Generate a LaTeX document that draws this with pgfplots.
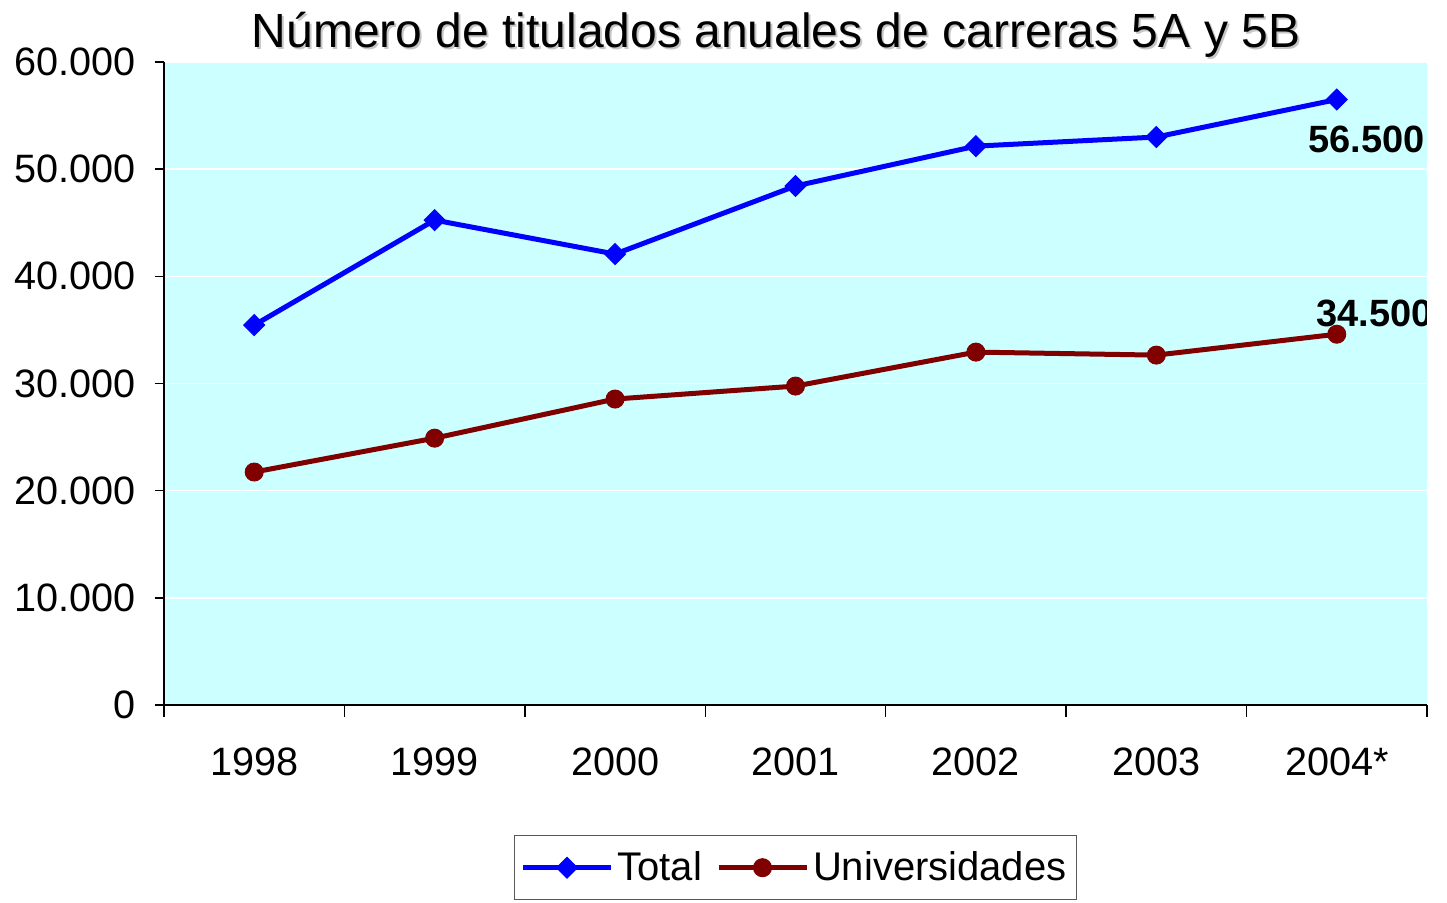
\documentclass[border=0pt]{standalone}
\usepackage{pgfplots}
\pgfplotsset{compat=1.18}
\usepackage{fontspec}
\setmainfont{Liberation Sans}
\definecolor{bgc}{HTML}{CCFFFF}
\definecolor{univ}{HTML}{800000}
\begin{document}
\begin{tikzpicture}
\useasboundingbox (-82pt,-98.5pt) rectangle (641.5pt,352.5pt);
\begin{axis}[
  scale only axis, width=631.5pt, height=321.5pt,
  xmin=-0.5, xmax=6.5, ymin=0, ymax=60000,
  axis lines=left,
  axis line style={-, black, line width=0.7pt},
  axis background/.style={fill=bgc},
  ytick={0,10000,20000,30000,40000,50000,60000},
  scaled y ticks=false,
  /pgf/number format/fixed,
  /pgf/number format/1000 sep={.},
  /pgf/number format/assume math mode=true,
  ymajorgrids, grid style={white, line width=0.7pt},
  xtick={0,1,2,3,4,5,6},
  xticklabels={1998,1999,2000,2001,2002,2003,2004*},
  minor xtick={-0.5,0.5,1.5,2.5,3.5,4.5,5.5,6.5},
  major x tick style={draw=none},
  tick style={black, line width=0.7pt},
  tick align=outside,
  major tick length=4.5pt, minor tick length=6pt,
  tick label style={font=\fontsize{19.8}{23}\selectfont},
  yticklabel style={xshift=-6pt},
  xticklabel style={yshift=-13.5pt},
  legend style={at={(0.5,0)}, anchor=north, yshift=-65pt,
    draw=gray!70!black, line width=0.7pt,
    font=\fontsize{20}{24}\selectfont, inner xsep=3pt, inner ysep=6pt},
  legend columns=-1,
  legend cell align=left,
  legend image code/.code={\draw[#1, mark repeat=2, mark phase=2] plot coordinates {(0pt,0pt) (22pt,0pt) (44pt,0pt)};},
  /tikz/every even column/.append style={column sep=5pt},
]
\addplot[blue, line width=2.5pt, mark=square*, mark size=3.7pt, mark options={solid, rotate=45, line width=0.5pt}]
  coordinates {(0,35450) (1,45250) (2,42080) (3,48430) (4,52150) (5,53000) (6,56500)};
\addlegendentry{Total}
\addplot[univ, line width=2.5pt, mark=*, mark size=4.5pt, mark options={solid, line width=0.5pt}]
  coordinates {(0,21740) (1,24900) (2,28550) (3,29760) (4,32930) (5,32650) (6,34600)};
\addlegendentry{Universidades}
\node[font=\bfseries\fontsize{19}{22}\selectfont, xshift=15pt, yshift=-20pt] at (axis cs:6,56500) {56.500};
\node[font=\bfseries\fontsize{19}{22}\selectfont, xshift=19pt, yshift=10.5pt] at (axis cs:6,34600) {34.500};
\end{axis}
\node[font=\fontsize{24}{28}\selectfont, anchor=base, text=gray!45] at (307pt,328pt) {Número de titulados anuales de carreras 5A y 5B};
\node[font=\fontsize{24}{28}\selectfont, anchor=base] at (306pt,329pt) {Número de titulados anuales de carreras 5A y 5B};
\end{tikzpicture}
\end{document}
